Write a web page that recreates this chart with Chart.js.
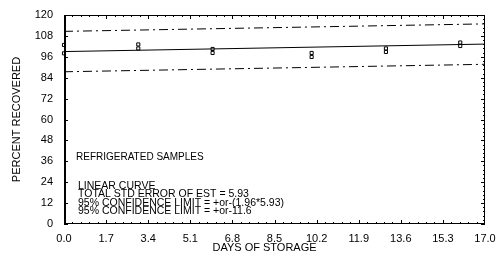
<!DOCTYPE html>
<html>
<head>
<meta charset="utf-8">
<script src="https://cdn.jsdelivr.net/npm/chart.js@4.4.0/dist/chart.umd.min.js"></script>
<style>
  html, body { margin: 0; padding: 0; background: #fff; }
  #wrap { width: 500px; height: 255px; }
</style>
</head>
<body>
<div id="wrap"><canvas id="myChart" width="500" height="255"></canvas></div>
<script>
  // sample results (days, percent recovered)
  var days = [0, 0, 3, 3, 6, 6, 10, 10, 13, 13, 16, 16];
  var recovered = [102.8, 98.0, 103.1, 100.8, 100.5, 98.2, 98.2, 95.9, 100.8, 98.8, 104.2, 102.2];

  // linear curve and 95% limits (+or- 11.6)
  var fitDays = [0, 17];
  var fitLine = [99.0, 103.3];
  var upperLimit = [110.6, 114.9];
  var lowerLimit = [87.4, 91.7];

  // tick labels
  var xTicks = [0.0, 1.7, 3.4, 5.1, 6.8, 8.5, 10.2, 11.9, 13.6, 15.3, 17.0];
  var yTicks = [0, 12, 24, 36, 48, 60, 72, 84, 96, 108, 120];

  var notes = [
    "LINEAR CURVE",
    "TOTAL STD ERROR OF EST = 5.93",
    "95% CONFIDENCE LIMIT = +or-(1.96*5.93)",
    "95% CONFIDENCE LIMIT = +or-11.6"
  ];

  function pts(xs, ys) {
    return xs.map(function (x, i) { return { x: x, y: ys[i] }; });
  }

  var font = "'Liberation Sans', Arial, sans-serif";

  //frame, inward ticks and text notes
  var framePlugin = {
    id: "frame",
    afterDraw: function (chart) {
      var c = chart.ctx, a = chart.chartArea;
      var xs = chart.scales.x, ys = chart.scales.y;
      c.save();
      c.strokeStyle = "#000";
      c.lineWidth = 1;
      c.strokeRect(a.left + 0.5, a.top + 0.5, a.right - a.left - 1, a.bottom - a.top - 1);
      c.beginPath();
      c.moveTo(a.left + 1.5, a.top); c.lineTo(a.left + 1.5, a.bottom);
      c.stroke();
      c.beginPath();
      var i, k, v, p;
      for (i = 0; i < yTicks.length - 1; i++) {
        for (k = 0; k < 5; k++) {
          v = yTicks[i] + (yTicks[i + 1] - yTicks[i]) * k / 5;
          p = Math.round(ys.getPixelForValue(v)) + 0.5;
          var len = k === 0 ? 4 : 2;
          c.moveTo(a.left, p); c.lineTo(a.left + len, p);
          c.moveTo(a.right, p); c.lineTo(a.right - len, p);
        }
      }
      for (i = 0; i < xTicks.length - 1; i++) {
        for (k = 0; k < 5; k++) {
          v = xTicks[i] + (xTicks[i + 1] - xTicks[i]) * k / 5;
          p = Math.round(xs.getPixelForValue(v)) + 0.5;
          var len2 = k === 0 ? 4 : 2;
          c.moveTo(p, a.bottom); c.lineTo(p, a.bottom - len2);
          c.moveTo(p, a.top); c.lineTo(p, a.top + len2);
        }
      }
      c.stroke();

      c.fillStyle = "#000";
      c.textBaseline = "alphabetic";
      c.textAlign = "left";
      c.font = "10px " + font;
      c.fillText("REFRIGERATED SAMPLES", a.left + 12, 160);
      c.font = "10.5px " + font;
      for (i = 0; i < notes.length; i++) {
        c.fillText(notes[i], a.left + 14, 189 + i * 8.3);
      }
      // x axis title, a little left of centre as in the original
      c.textAlign = "center";
      c.textBaseline = "middle";
      c.font = "11px " + font;
      c.fillText("DAYS OF STORAGE", (a.left + a.right) / 2 - 10, 248);
      c.restore();
    }
  };

  var data2 = {
    datasets: [{
      label: "linear curve",
      data: pts(fitDays, fitLine),
      showLine: true,
      borderColor: "#000",
      borderWidth: 1,
      pointRadius: 0
    }, {
      label: "upper limit",
      data: pts(fitDays, upperLimit),
      showLine: true,
      borderColor: "#000",
      borderWidth: 1,
      borderDash: [9, 4, 2, 4],
      pointRadius: 0
    }, {
      label: "lower limit",
      data: pts(fitDays, lowerLimit),
      showLine: true,
      borderColor: "#000",
      borderWidth: 1,
      borderDash: [9, 4, 2, 4],
      pointRadius: 0
    }, {
      label: "samples",
      data: pts(days, recovered),
      showLine: false,
      pointStyle: "rect",
      pointRadius: 2.2,
      borderColor: "#000",
      borderWidth: 1,
      backgroundColor: "rgba(0,0,0,0)",
      clip: 4
    }]
  };

  var options = {
    responsive: false,
    animation: false,
    layout: { padding: { top: 15, right: 15, left: 0, bottom: 0 } },
    plugins: {
      legend: { display: false },
      tooltip: { enabled: false }
    },
    scales: {
      x: {
        type: "linear",
        min: 0,
        max: 17,
        afterBuildTicks: function (s) { s.ticks = xTicks.map(function (v) { return { value: v }; }); },
        afterFit: function (s) { s.height = 31; },
        grid: { display: false },
        border: { display: false },
        ticks: {
          color: "#000",
          padding: 0,
          maxRotation: 0,
          autoSkip: false,
          font: { family: font, size: 11 },
          callback: function (v) { return Number(v).toFixed(1); }
        },
        title: { display: false }
      },
      y: {
        type: "linear",
        min: 0,
        max: 120,
        afterBuildTicks: function (s) { s.ticks = yTicks.map(function (v) { return { value: v }; }); },
        afterFit: function (s) { s.width = 64; },
        grid: { display: false },
        border: { display: false },
        ticks: {
          color: "#000",
          padding: 3,
          autoSkip: false,
          font: { family: font, size: 11 }
        },
        title: {
          display: true,
          text: "PERCENT RECOVERED",
          color: "#000",
          padding: { top: 10, bottom: 0 },
          font: { family: font, size: 11 }
        }
      }
    }
  };

  var ctx = document.getElementById("myChart");
  var chart2 = new Chart(ctx, {
    type: "scatter",
    data: data2,
    options: options,
    plugins: [framePlugin]
  });
</script>
</body>
</html>
